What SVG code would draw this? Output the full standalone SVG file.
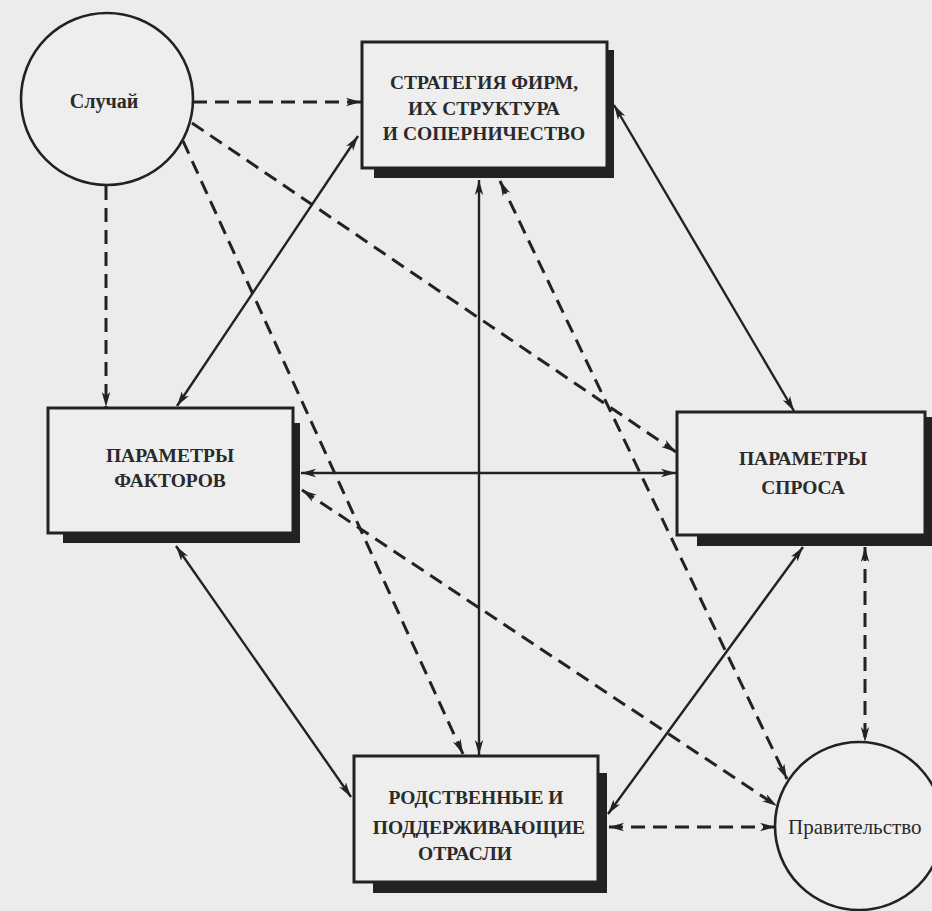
<svg xmlns="http://www.w3.org/2000/svg" width="932" height="911" viewBox="0 0 932 911">
<defs>
<marker id="ah" markerUnits="userSpaceOnUse" markerWidth="16" markerHeight="10" refX="15" refY="5" orient="auto-start-reverse">
<path d="M0,0.8 L15,5 L0,9.2 L4,5 z" fill="#222"/>
</marker>
<style>
.box{fill:#eeeeee;stroke:#222;stroke-width:3}
.sh{fill:#222}
.circ{fill:#eeeeee;stroke:#222;stroke-width:2.6}
.lbl{font-family:"Liberation Serif","Times New Roman",serif;font-weight:bold;font-size:19.5px;fill:#2a2a2a;text-anchor:middle}
.sol{stroke:#222;stroke-width:2.4;fill:none;marker-start:url(#ah);marker-end:url(#ah)}
.dsh{stroke:#222;stroke-width:3;fill:none;stroke-dasharray:14 8}
.both{marker-start:url(#ah);marker-end:url(#ah)}
.one{marker-end:url(#ah)}
</style>
</defs>
<rect x="0" y="0" width="932" height="911" fill="#ececec"/>

<g id="connectors">
<path class="dsh one" d="M193,102 L361,102"/>
<path class="dsh one" d="M106,186 L106,407"/>
<path class="dsh one" d="M183,141 L463,754"/>
<path class="dsh one" d="M192,123 L676,452"/>
<path class="sol" d="M358,136 L177,406"/>
<path class="sol" d="M614,105 L794,411"/>
<path class="sol" d="M479,180 L479,755"/>
<path class="dsh both" d="M500,181 L787,779"/>
<path class="sol" d="M301,473 L676,473"/>
<path class="sol" d="M176,546 L351,797"/>
<path class="dsh both" d="M302,490 L777,806"/>
<path class="sol" d="M803,547 L608,814"/>
<path class="dsh both" d="M865,547 L865,742"/>
<path class="dsh both" d="M609,827 L775,827"/>
</g>

<g id="chance">
<circle class="circ" cx="107" cy="99" r="86"/>
<text x="104" y="108" style="font-family:'Liberation Serif','Times New Roman',serif;font-weight:bold;font-size:20px;fill:#2a2a2a;text-anchor:middle">Случай</text>
</g>

<g id="strategy">
<rect class="sh" x="607" y="50" width="7" height="128"/>
<rect class="sh" x="374" y="168" width="240" height="10"/>
<rect class="box" x="362" y="42" width="245" height="126"/>
<text class="lbl" x="484" y="89">СТРАТЕГИЯ ФИРМ,</text>
<text class="lbl" x="484" y="115">ИХ СТРУКТУРА</text>
<text class="lbl" x="484" y="140">И СОПЕРНИЧЕСТВО</text>
</g>

<g id="factors">
<rect class="sh" x="293" y="423" width="7" height="120"/>
<rect class="sh" x="63" y="533" width="237" height="10"/>
<rect class="box" x="48" y="408" width="245" height="125"/>
<text class="lbl" x="170" y="462">ПАРАМЕТРЫ</text>
<text class="lbl" x="170" y="487">ФАКТОРОВ</text>
</g>

<g id="demand">
<rect class="sh" x="925" y="417" width="7" height="129"/>
<rect class="sh" x="697" y="535" width="235" height="11"/>
<rect class="box" x="677" y="412" width="248" height="123"/>
<text class="lbl" x="803" y="465">ПАРАМЕТРЫ</text>
<text class="lbl" x="803" y="494">СПРОСА</text>
</g>

<g id="related">
<rect class="sh" x="598" y="773" width="9" height="120"/>
<rect class="sh" x="373" y="882" width="234" height="11"/>
<rect class="box" x="354" y="756" width="244" height="126"/>
<text class="lbl" x="476" y="804">РОДСТВЕННЫЕ И</text>
<text class="lbl" x="479" y="834">ПОДДЕРЖИВАЮЩИЕ</text>
<text class="lbl" x="465" y="860">ОТРАСЛИ</text>
</g>

<g id="government">
<circle class="circ" cx="859" cy="826" r="84"/>
<text x="788" y="834" style="font-family:'Liberation Serif','Times New Roman',serif;font-size:21px;fill:#2a2a2a">Правительство</text>
</g>
</svg>
